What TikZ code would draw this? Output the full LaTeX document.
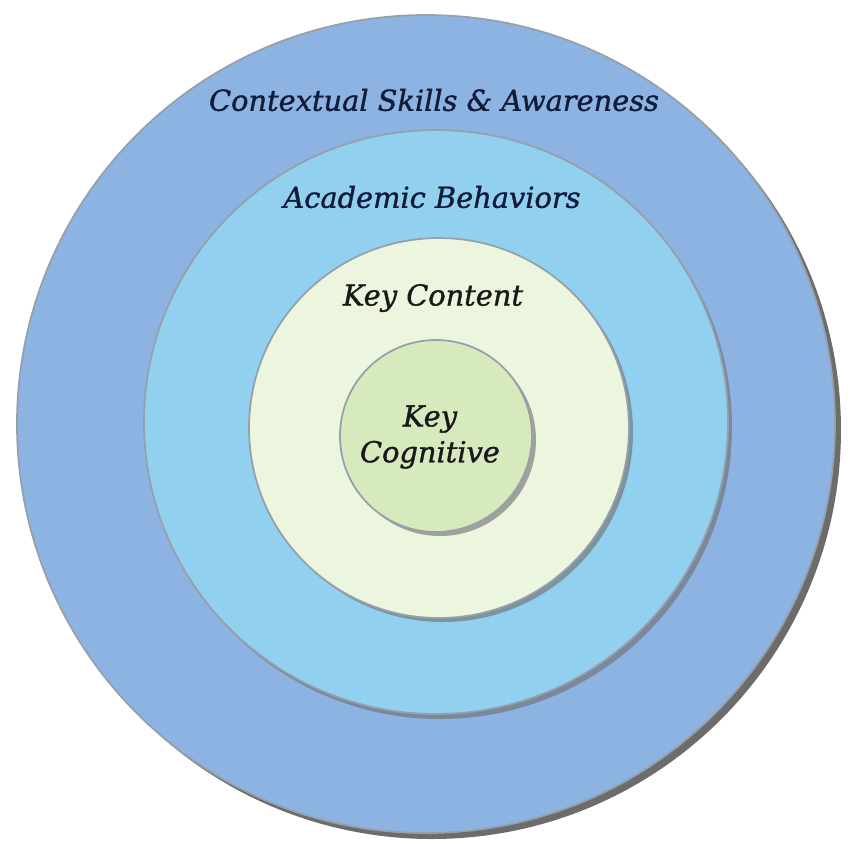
\documentclass[tikz,border=0pt]{standalone}
\usepackage{fontspec}
\setmainfont{DejaVu Serif}
\newfontfamily\tagfont{DejaVu Serif}[FakeBold=1.2]
\definecolor{outerblue}{RGB}{141,179,226}
\definecolor{midblue}{RGB}{146,208,240}
\definecolor{palegreen}{RGB}{236,245,222}
\definecolor{coregreen}{RGB}{214,234,190}
\definecolor{shadowgray}{RGB}{108,108,108}
\definecolor{edgegray}{RGB}{150,160,170}
\definecolor{textnavy}{RGB}{18,28,58}
\begin{document}
\begin{tikzpicture}[x=0.01cm,y=-0.01cm,
  ring/.style={draw=edgegray, line width=0.5pt},
  rimshadow/.style={fill=shadowgray},
  tag/.style={font=\tagfont\itshape\fontsize{#1}{#1}\selectfont, text=textnavy, inner sep=0pt, align=center}]
\useasboundingbox (0,0) rectangle (850,853);

% outer ring
\fill[rimshadow] (432,430) circle (409);
\filldraw[ring, fill=outerblue] (426,424) circle (409);
% academic ring
\fill[rimshadow, opacity=0.6] (440,427) circle (292);
\filldraw[ring, fill=midblue] (436,422) circle (292);
% content ring
\fill[rimshadow, opacity=0.6] (443,432) circle (190);
\filldraw[ring, fill=palegreen] (439,428) circle (190);
% core
\fill[rimshadow, opacity=0.6] (440,440) circle (96);
\filldraw[ring, fill=coregreen] (436,436) circle (96);

\node[tag=8.2] (context) at (434,100) {Contextual Skills \& Awareness};
\node[tag=8.2] (academic) at (432,197) {Academic Behaviors};
\node[tag=8.2, text=black!90] (content) at (433,298) {Key Content};
\node[tag=8.2, text=black!90] (cognitive) at (430,437) {Key\\[2pt]Cognitive};
\end{tikzpicture}
\end{document}
